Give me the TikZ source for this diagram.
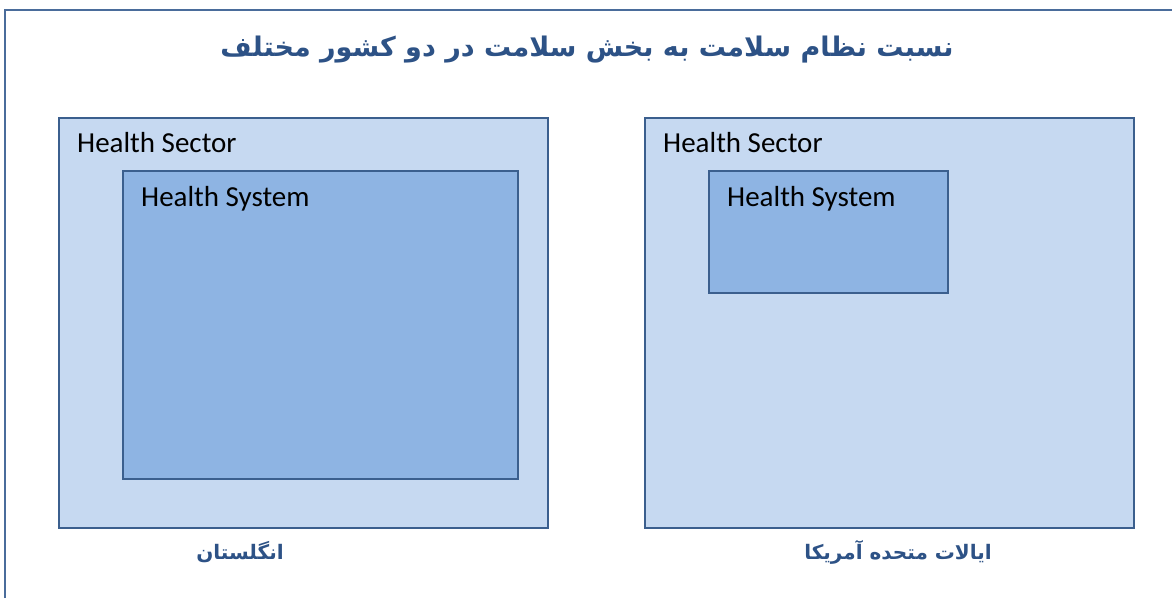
\documentclass[tikz,border=0pt]{standalone}
\usepackage{fontspec}
\setmainfont{Carlito}
\newfontfamily\arabicfont[Script=Arabic]{DejaVu Sans}
\TeXXeTstate=1
\definecolor{framecol}{HTML}{4A6C9B}
\definecolor{edgecol}{HTML}{3B5F8E}
\definecolor{sectorfill}{HTML}{C6D9F1}
\definecolor{systemfill}{HTML}{8EB4E3}
\definecolor{titlecol}{HTML}{2D5286}
\tikzset{
  sectorbox/.style={draw=edgecol, line width=2.2pt, fill=sectorfill, anchor=north west, inner sep=0pt, outer sep=0pt},
  systembox/.style={draw=edgecol, line width=2.2pt, fill=systemfill, anchor=north west, inner sep=0pt, outer sep=0pt},
  boxlabel/.style={anchor=base west, inner sep=0pt, font=\fontsize{29}{34}\selectfont, text=black},
  arlabel/.style={inner sep=0pt, text=titlecol, font=\arabicfont\bfseries\fontsize{20}{24}\selectfont},
}
\begin{document}
\begin{tikzpicture}[x=1pt,y=-1pt]
\useasboundingbox (0,0) rectangle (1172,598);
\fill[white] (0,0) rectangle (1172,598);
% outer frame
\coordinate (fbl) at (5,598);
\coordinate (ftl) at (5,10);
\coordinate (ftr) at (1172,10);
\draw[framecol, line width=2.2pt] (fbl) -- (ftl) -- (ftr);
% title
\node[arlabel, font=\arabicfont\bfseries\fontsize{27}{32}\selectfont] (title) at (587,50) {\beginR نسبت نظام سلامت به بخش سلامت در دو کشور مختلف\endR};
% left
\node[sectorbox, minimum width=489pt, minimum height=410pt] (lsec) at (59,118) {};
\node[systembox, minimum width=395pt, minimum height=308pt] (lsys) at (123,171) {};
\node[boxlabel] (lsect) at (77,152) {Health Sector};
\node[boxlabel] (lsyst) at (141,206) {Health System};
\node[arlabel] (lname) at (240,552) {\beginR انگلستان\endR};
% right
\node[sectorbox, minimum width=489pt, minimum height=410pt] (rsec) at (645,118) {};
\node[systembox, minimum width=239pt, minimum height=122pt] (rsys) at (709,171) {};
\node[boxlabel] (rsect) at (663,152) {Health Sector};
\node[boxlabel] (rsyst) at (727,206) {Health System};
\node[arlabel] (rname) at (898,552) {\beginR ایالات متحده آمریکا\endR};
\end{tikzpicture}
\end{document}
